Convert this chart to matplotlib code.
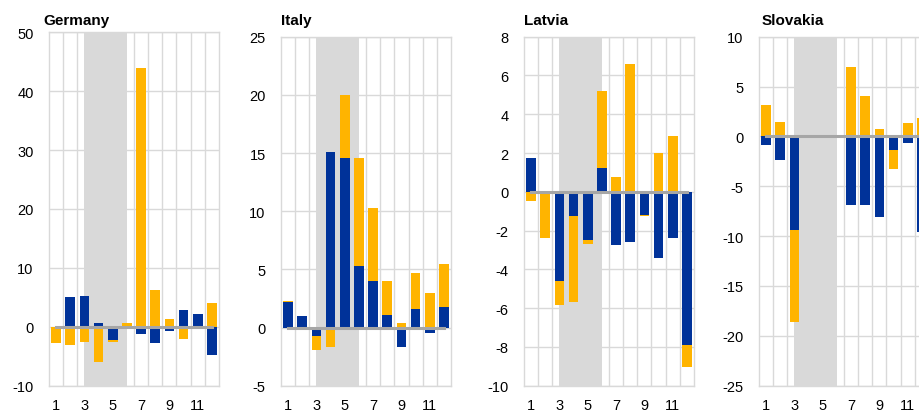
import matplotlib.pyplot as plt
import numpy as np

plt.rcParams['font.family'] = ['Liberation Sans', 'DejaVu Sans']
plt.rcParams['axes.unicode_minus'] = False

months = [1, 2, 3, 4, 5, 6, 7, 8, 9, 10, 11, 12]
xtick_labels = ['1', '3', '5', '7', '9', '11']

# blue series and yellow series per country
germany_blue = [0.0, 5.0, 5.3, 0.7, -2.3, 0.0, -1.2, -2.7, -0.7, 2.8, 2.2, -4.8]
germany_yellow = [-2.7, -3.05, -2.5, -5.9, -0.25, 0.6, 43.9, 6.2, 1.25, -2.0, 0.0, 4.0]

italy_blue = [2.2, 0.95, -0.75, 15.1, 14.6, 5.3, 4.0, 1.07, -1.65, 1.62, -0.5, 1.8]
italy_yellow = [0.05, 0.0, -1.15, -1.7, 5.4, 9.3, 6.3, 2.9, 0.4, 3.06, 3.0, 3.7]

latvia_blue = [1.73, -0.1, -4.6, -1.26, -2.48, 1.23, -2.76, -2.59, -1.21, -3.41, -2.36, -7.9]
latvia_yellow = [-0.49, -2.27, -1.24, -4.42, -0.21, 3.97, 0.76, 6.59, -0.03, 2.0, 2.9, -1.15]

slovakia_blue = [-0.84, -2.4, -9.4, 0.0, 0.0, 0.0, -6.9, -6.92, -8.12, -1.4, -0.67, -9.6]
slovakia_yellow = [3.2, 1.4, -9.26, 0.0, 0.0, 0.0, 7.0, 4.05, 0.74, -1.88, 1.3, 1.8]

# name, blue, yellow, ylim, step, axes left px, axes top px, title x px
panels = [
    ('Germany', germany_blue, germany_yellow, (-10, 50), 10, 49, 33.3, 43),
    ('Italy', italy_blue, italy_yellow, (-5, 25), 5, 281, 37.7, 281),
    ('Latvia', latvia_blue, latvia_yellow, (-10, 8), 2, 524, 37.7, 524),
    ('Slovakia', slovakia_blue, slovakia_yellow, (-25, 10), 5, 759, 37.7, 762),
]

blue = '#003299'
yellow = '#ffb400'
grid_col = '#d9d9d9'
W, H = 920, 414

fig = plt.figure(figsize=(9.2, 4.14), dpi=100)

for name, b, y, ylim, step, left, top, tx in panels:
    bottom = 386.7
    ax = fig.add_axes([left / W, 1 - bottom / H, 170 / W, (bottom - top) / H])
    b = np.array(b)
    y = np.array(y)
    # excel style stacking: positives up, negatives down
    b_pos = np.where(b > 0, b, 0)
    b_neg = np.where(b < 0, b, 0)
    y_base = np.where(y > 0, b_pos, b_neg)
    ax.bar(months, b, width=0.68, color=blue, zorder=3)
    ax.bar(months, y, bottom=y_base, width=0.68, color=yellow, zorder=3)
    ax.plot(months, np.zeros(len(months)), color='#a6a6a6', lw=2.2, zorder=4)
    ax.axvspan(3, 6, color='#d9d9d9', zorder=2, lw=0)

    ax.set_xlim(0.5, 12.5)
    ax.set_ylim(ylim)
    ax.set_yticks(np.arange(ylim[0], ylim[1] + step / 2, step))
    ax.set_xticks([1, 3, 5, 7, 9, 11])
    ax.set_xticklabels(xtick_labels)
    ax.set_xticks(np.arange(1.5, 12, 1), minor=True)
    ax.grid(axis='y', which='major', color=grid_col, lw=1, zorder=1)
    ax.grid(axis='x', which='minor', color=grid_col, lw=1, zorder=1)
    ax.tick_params(which='both', length=0, labelsize=10.5, colors='black')
    ax.tick_params(axis='y', pad=11)
    ax.tick_params(axis='x', pad=9)
    for s in ax.spines.values():
        s.set_color(grid_col)
        s.set_linewidth(1)

    fig.text(tx / W, 1 - 20.7 / H, name, fontsize=11, fontweight='bold',
             va='center', ha='left')

fig.savefig('out.png', dpi=100)
